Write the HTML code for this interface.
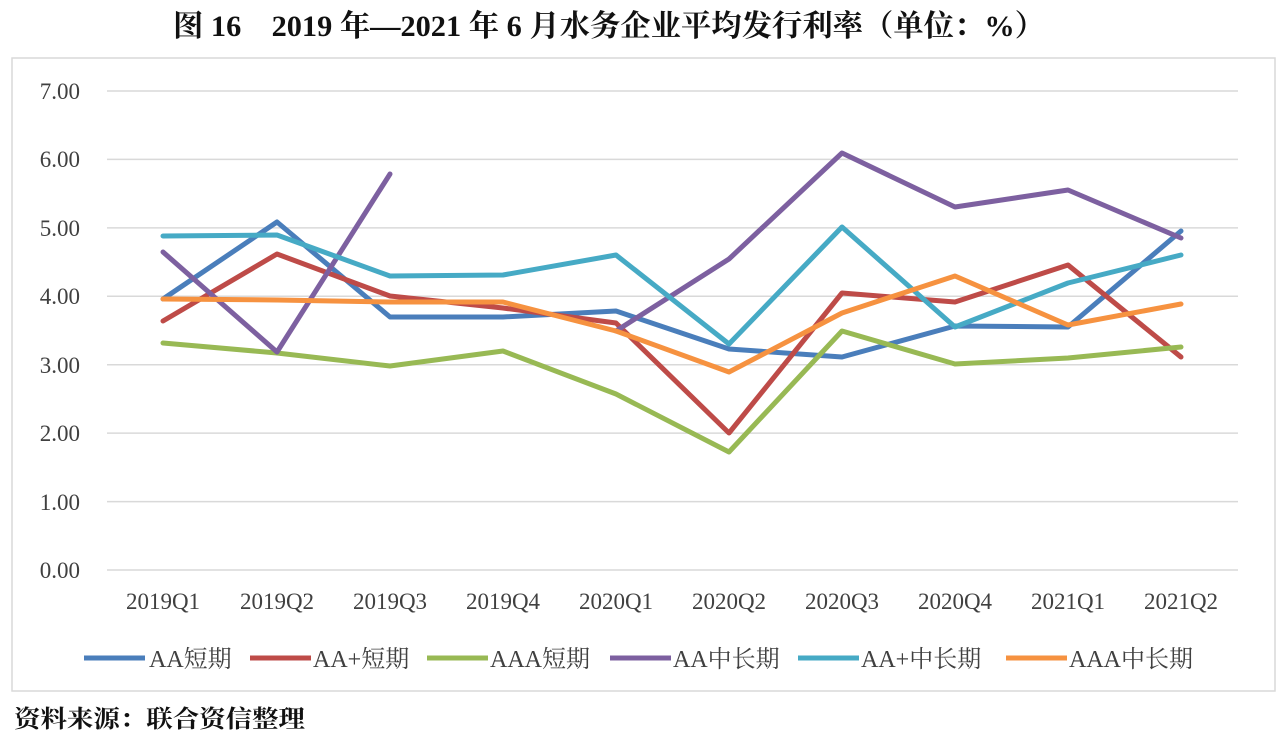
<!DOCTYPE html>
<html><head><meta charset="utf-8"><style>
body{margin:0;background:#fff;width:1286px;height:742px;overflow:hidden;font-family:"Liberation Serif","Noto Serif CJK SC",serif;}
</style></head><body>
<svg width="1286" height="742" xmlns="http://www.w3.org/2000/svg" font-family="'Liberation Serif','Noto Serif CJK SC',serif">
<text x="609" y="36" text-anchor="middle" font-size="30" font-weight="bold" fill="#111" textLength="872" lengthAdjust="spacingAndGlyphs">图 16　2019 年—2021 年 6 月水务企业平均发行利率（单位：%）</text>
<rect x="12" y="58" width="1263" height="633" fill="#fff" stroke="#d9d9d9" stroke-width="1.5"/>
<g stroke="#d9d9d9" stroke-width="1.5">
<line x1="107" x2="1238" y1="91" y2="91"/><line x1="107" x2="1238" y1="159.4" y2="159.4"/>
<line x1="107" x2="1238" y1="227.9" y2="227.9"/><line x1="107" x2="1238" y1="296.3" y2="296.3"/>
<line x1="107" x2="1238" y1="364.7" y2="364.7"/><line x1="107" x2="1238" y1="433.1" y2="433.1"/>
<line x1="107" x2="1238" y1="501.6" y2="501.6"/><line x1="107" x2="1238" y1="570" y2="570"/>
</g>
<g font-size="23" fill="#404040" text-anchor="end">
<text x="80" y="99">7.00</text><text x="80" y="167">6.00</text><text x="80" y="236">5.00</text>
<text x="80" y="304">4.00</text><text x="80" y="373">3.00</text><text x="80" y="441">2.00</text>
<text x="80" y="510">1.00</text><text x="80" y="578">0.00</text>
</g>
<g font-size="23" fill="#404040" text-anchor="middle">
<text x="163" y="609">2019Q1</text><text x="277" y="609">2019Q2</text><text x="390" y="609">2019Q3</text>
<text x="503" y="609">2019Q4</text><text x="616" y="609">2020Q1</text><text x="729" y="609">2020Q2</text>
<text x="842" y="609">2020Q3</text><text x="955" y="609">2020Q4</text><text x="1068" y="609">2021Q1</text>
<text x="1181" y="609">2021Q2</text>
</g>
<g fill="none" stroke-width="5" stroke-linejoin="round" stroke-linecap="round">
<polyline stroke="#4a7ebb" points="163,299 277,222 390,317 503,317 616,311 729,349 842,357 955,326 1068,327 1181,231"/>
<polyline stroke="#be4b48" points="163,321 277,254 390,296 503,308 616,323 729,433 842,293 955,302 1068,265 1181,357"/>
<polyline stroke="#98b954" points="163,343 277,353 390,366 503,351 616,394 729,452 842,331 955,364 1068,358 1181,347"/>
<polyline stroke="#7d60a0" points="163,252 277,352 390,174"/>
<polyline stroke="#7d60a0" points="616,331 729,259 842,153 955,207 1068,190 1181,238"/>
<polyline stroke="#46aac5" points="163,236 277,235 390,276 503,275 616,255 729,344 842,227 955,327 1068,283 1181,255"/>
<polyline stroke="#f69240" points="163,299 277,300 390,302 503,302 616,331 729,372 842,313 955,276 1068,325 1181,304"/>
</g>
<g stroke-width="5" font-size="24" fill="#404040">
<line x1="84" x2="145" y1="658" y2="658" stroke="#4a7ebb"/><text x="149" y="667">AA短期</text>
<line x1="250" x2="311" y1="658" y2="658" stroke="#be4b48"/><text x="313" y="667">AA+短期</text>
<line x1="427" x2="488" y1="658" y2="658" stroke="#98b954"/><text x="490" y="667">AAA短期</text>
<line x1="610" x2="671" y1="658" y2="658" stroke="#7d60a0"/><text x="673" y="667">AA中长期</text>
<line x1="798" x2="859" y1="658" y2="658" stroke="#46aac5"/><text x="861" y="667">AA+中长期</text>
<line x1="1006" x2="1067" y1="658" y2="658" stroke="#f69240"/><text x="1069" y="667">AAA中长期</text>
</g>
<text x="14" y="727" font-size="24" font-weight="bold" fill="#111" textLength="291" lengthAdjust="spacingAndGlyphs">资料来源：联合资信整理</text>
</svg>
</body></html>
